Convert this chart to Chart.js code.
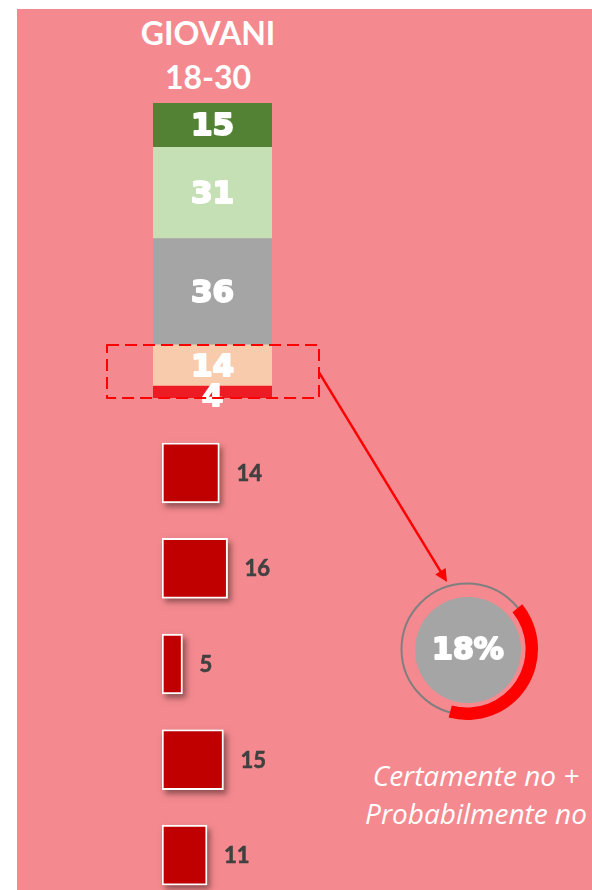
<!DOCTYPE html>
<html>
<head>
<meta charset="utf-8">
<script src="https://cdn.jsdelivr.net/npm/chart.js@4.4.1/dist/chart.umd.min.js"></script>
<style>
  html, body { margin: 0; padding: 0; width: 592px; height: 890px; overflow: hidden; background: #ffffff; }
  #panel { position: absolute; left: 17px; top: 9px; width: 575px; height: 881px; background: #F48A8F; }
  canvas { position: absolute; }
  #title { position: absolute; left: 108px; top: 11px; width: 200px; text-align: center;
           font: 700 32px/44px Lato, sans-serif; color: #ffffff; }
  #caption { position: absolute; left: 326px; top: 756px; width: 300px; text-align: center;
             font: italic 400 28px/38px "Open Sans", sans-serif; color: #ffffff; }
</style>
</head>
<body>
<div id="panel"></div>
<div id="title">GIOVANI<br>18-30</div>
<div id="caption">Certamente no +<br>Probabilmente no</div>

<canvas id="items" width="592" height="478" style="left:0;top:425px"></canvas>
<canvas id="ring" width="160" height="160" style="left:387px;top:569px"></canvas>
<canvas id="stack" width="592" height="890" style="left:0;top:0"></canvas>

<script>
// --- dati ---
var stackCategory = ['GIOVANI 18-30'];
// dal basso verso l'alto
var segmentNames = ['Certamente no', 'Probabilmente no', 'Non so', 'Probabilmente sì', 'Certamente sì'];
var segmentValues = [4, 14, 36, 31, 15];

var itemLabels = ['Voce 1', 'Voce 2', 'Voce 3', 'Voce 4', 'Voce 5'];
var itemValues = [14, 16, 5, 15, 11];

// anello decorativo attorno al 18% (quota dell'arco rosso sul cerchio)
var ringShare = [40, 60];

// --- stili ---
var segmentColors = ['#ED1C24', '#F8CBAD', '#A5A5A5', '#C5E0B4', '#548235'];

// totale "no" = primi due segmenti
var noTotal = segmentValues[0] + segmentValues[1];

// testo bianco "pesante" (riempimento + contorno)
function heavyText(ctx, txt, x, y) {
  ctx.strokeText(txt, x, y);
  ctx.fillText(txt, x, y);
}

// etichette bianche dentro la barra impilata + riquadro tratteggiato + freccia
var stackPlugin = {
  id: 'stackExtras',
  afterDatasetsDraw: function(chart) {
    var ctx = chart.ctx;
    ctx.save();
    ctx.fillStyle = '#ffffff';
    ctx.strokeStyle = '#ffffff';
    ctx.lineWidth = 2;
    ctx.lineJoin = 'round';
    ctx.font = 'bold 31px "DejaVu Sans"';
    ctx.textAlign = 'center';
    ctx.textBaseline = 'middle';
    chart.data.datasets.forEach(function(ds, i) {
      var bar = chart.getDatasetMeta(i).data[0];
      var yMid = (bar.y + bar.base) / 2 + 2;
      if (ds.data[0] < 5) yMid += 4;
      heavyText(ctx, ds.data[0], bar.x, yMid);
    });

    // riquadro tratteggiato sui segmenti "no"
    var area = chart.chartArea;
    var yTop = chart.scales.y.getPixelForValue(noTotal);
    var yBot = chart.scales.y.getPixelForValue(0);
    var left = area.left - 46, right = area.right + 47;
    ctx.strokeStyle = '#FF0000';
    ctx.lineWidth = 2;
    ctx.setLineDash([12, 6]);
    ctx.strokeRect(left, yTop, right - left, yBot - yTop);

    // freccia verso il cerchio
    ctx.setLineDash([]);
    ctx.lineWidth = 2.5;
    var x0 = right, y0 = (yTop + yBot) / 2 + 1;
    var x1 = 447, y1 = 582;
    var ang = Math.atan2(y1 - y0, x1 - x0);
    var hl = 14;
    ctx.beginPath();
    ctx.moveTo(x0, y0);
    ctx.lineTo(x1 - Math.cos(ang) * hl * 0.8, y1 - Math.sin(ang) * hl * 0.8);
    ctx.stroke();
    ctx.beginPath();
    ctx.moveTo(x1, y1);
    ctx.lineTo(x1 - hl * Math.cos(ang - 0.45), y1 - hl * Math.sin(ang - 0.45));
    ctx.lineTo(x1 - hl * Math.cos(ang + 0.45), y1 - hl * Math.sin(ang + 0.45));
    ctx.closePath();
    ctx.fillStyle = '#FF0000';
    ctx.fill();
    ctx.restore();
  }
};

var stackDatasets = [];
for (var i in segmentValues) {
  stackDatasets.push({
    label: segmentNames[i],
    data: [segmentValues[i]],
    backgroundColor: segmentColors[i],
    borderWidth: 0,
    barPercentage: 1,
    categoryPercentage: 1
  });
}

new Chart(document.getElementById('stack'), {
  type: 'bar',
  data: { labels: stackCategory, datasets: stackDatasets },
  options: {
    responsive: false,
    animation: false,
    events: [],
    layout: { padding: { left: 153, right: 320, top: 103, bottom: 492 } },
    scales: {
      x: { stacked: true, display: false },
      y: { stacked: true, display: false, min: 0, max: 100 }
    },
    plugins: { legend: { display: false }, tooltip: { enabled: false } }
  },
  plugins: [stackPlugin]
});

// barre orizzontali rosse con ombra ed etichette grigie
var itemsPlugin = {
  id: 'itemsExtras',
  beforeDatasetsDraw: function(chart) {
    var ctx = chart.ctx;
    ctx.save();
    ctx.shadowColor = 'rgba(60,30,30,0.55)';
    ctx.shadowBlur = 6;
    ctx.shadowOffsetX = 3;
    ctx.shadowOffsetY = 4;
    ctx.fillStyle = '#C00000';
    chart.getDatasetMeta(0).data.forEach(function(bar) {
      ctx.fillRect(bar.base, bar.y - bar.height / 2, bar.x - bar.base, bar.height);
    });
    ctx.restore();
  },
  afterDatasetsDraw: function(chart) {
    var ctx = chart.ctx;
    ctx.save();
    ctx.fillStyle = '#404040';
    ctx.strokeStyle = '#404040';
    ctx.lineWidth = 0.6;
    ctx.font = 'bold 22px Lato';
    ctx.textAlign = 'left';
    ctx.textBaseline = 'middle';
    chart.getDatasetMeta(0).data.forEach(function(bar, i) {
      heavyText(ctx, itemValues[i], bar.x + 17, bar.y + 1);
    });
    ctx.restore();
  }
};

new Chart(document.getElementById('items'), {
  type: 'bar',
  data: {
    labels: itemLabels,
    datasets: [{
      data: itemValues,
      backgroundColor: '#C00000',
      borderColor: '#FFFFFF',
      borderWidth: 2,
      borderSkipped: false,
      barThickness: 60
    }]
  },
  options: {
    indexAxis: 'y',
    responsive: false,
    animation: false,
    events: [],
    layout: { padding: { left: 162, right: 20, top: 0, bottom: 0 } },
    scales: {
      x: { display: false, min: 0, max: 100 },
      y: { display: false }
    },
    plugins: { legend: { display: false }, tooltip: { enabled: false } }
  },
  plugins: [itemsPlugin]
});

// cerchio con il totale
var ringPlugin = {
  id: 'ringExtras',
  beforeDatasetsDraw: function(chart) {
    var ctx = chart.ctx;
    var cx = (chart.chartArea.left + chart.chartArea.right) / 2;
    var cy = (chart.chartArea.top + chart.chartArea.bottom) / 2;
    ctx.save();
    ctx.beginPath();
    ctx.arc(cx, cy, 65.5, 0, Math.PI * 2);
    ctx.strokeStyle = '#7F7F7F';
    ctx.lineWidth = 2;
    ctx.stroke();
    ctx.beginPath();
    ctx.arc(cx + 1, cy + 1, 53, 0, Math.PI * 2);
    ctx.fillStyle = '#A5A5A5';
    ctx.fill();
    ctx.fillStyle = '#ffffff';
    ctx.strokeStyle = '#ffffff';
    ctx.lineWidth = 2;
    ctx.lineJoin = 'round';
    ctx.font = 'bold 30px "DejaVu Sans"';
    ctx.textAlign = 'center';
    ctx.textBaseline = 'middle';
    heavyText(ctx, noTotal + '%', cx + 1, cy + 2);
    ctx.restore();
  }
};

new Chart(document.getElementById('ring'), {
  type: 'doughnut',
  data: {
    labels: ['arco', 'resto'],
    datasets: [{
      data: ringShare,
      backgroundColor: ['#FF0000', 'rgba(0,0,0,0)'],
      borderWidth: 0
    }]
  },
  options: {
    responsive: false,
    animation: false,
    events: [],
    radius: 71,
    cutout: 66,
    rotation: 51,
    plugins: { legend: { display: false }, tooltip: { enabled: false } }
  },
  plugins: [ringPlugin]
});
</script>
</body>
</html>
